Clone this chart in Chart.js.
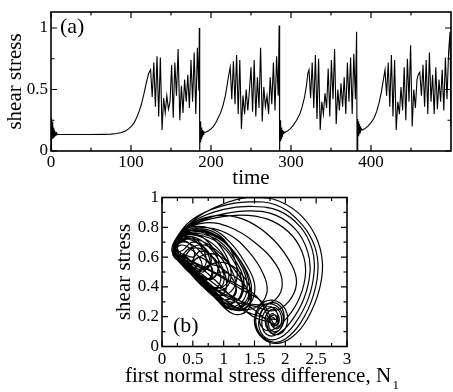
<!DOCTYPE html>
<html>
<head>
<meta charset="UTF-8">
<title>shear stress</title>
<script src="https://cdn.jsdelivr.net/npm/chart.js@4.4.1/dist/chart.umd.min.js"></script>
<style>
  body { margin: 0; background: #fff; }
  .wrap { position: relative; width: 453px; height: 392px; overflow: hidden; }
  #chartA { position: absolute; left: 0; top: -20px; }
  #chartB { position: absolute; left: 0; top: 170px; }
</style>
</head>
<body>
<div class="wrap">
  <canvas id="chartA" width="453" height="220"></canvas>
  <canvas id="chartB" width="453" height="222"></canvas>
</div>
<script>
// ---- panel (a): shear stress vs time ----
const timeA = [
  0,0.4,0.9,1.4,1.9,2.4,2.9,3.4,3.9,4.4,5,5.6,6.3,7,8,10,
  15,30,50,65,75,82,88,93,97,101,104,107,110,113,116,119,122,
  124.5,126.5,128.5,130.5,132.5,134.6,136.7,138.8,140.8,142.8,144.8,146.8,148.8,150.8,152.8,154.8,156.8,158.9,161,163,165,167,169,171,173,175,177,179,181,183,184.8,185.4,
  185.9,186.4,186.9,187.4,187.9,188.4,188.9,189.5,190.2,191,192,194,197,200,203,206,209,212,215,218,220.5,222.5,
  224,226,228,230,232,234,236,238,240,242,244,246,248,250,252,254,256,258,260,262,264,266,268,270,272,274,276,278,280,282,284,285.2,
  285.8,286.3,286.8,287.3,287.8,288.3,288.8,289.4,290,291,292,295,299,303,307,311,314,317,319.5,321,
  322.5,324.5,326.5,328.5,330.5,332.5,334.5,336.5,338.5,340.5,342.5,344.5,346.5,348.5,350.5,352.5,354.5,356.5,358.5,360.5,362.5,364.5,366.5,368.5,370.5,372.5,374.5,376.5,378.5,380.5,382,
  382.6,383.1,383.6,384.1,384.6,385.1,385.7,386.3,387,388,389,392,396,400,404,407,410,413,415.5,417.5,
  419.5,421.5,423.5,425.5,427.5,429.5,431.5,433.5,435.5,437.5,439.5,441.5,443.5,445.5,447.5,449.5,451.5,453.5,455.5,457.5,459,461,463,465,467,469,471,473,475,477,479,481,483,485,487,489,491,493,495,497,498.8,500
];
const stressA = [
  0.00,0.27,0.08,0.24,0.10,0.21,0.11,0.19,0.12,0.17,0.125,0.155,0.13,0.145,0.135,0.134,
  0.134,0.134,0.134,0.135,0.137,0.142,0.150,0.163,0.180,0.205,0.23,0.27,0.32,0.38,0.46,0.55,0.63,
  0.66,0.44,0.72,0.36,0.77,0.28,0.76,0.17,0.43,0.31,0.45,0.34,0.40,0.70,0.27,0.72,0.45,0.83,0.25,0.53,0.31,0.58,0.40,0.62,0.35,0.74,0.40,0.80,0.30,0.84,0.49,1.00,
  0.00,0.24,0.07,0.21,0.10,0.19,0.12,0.17,0.135,0.155,0.15,0.155,0.165,0.18,0.20,0.23,0.27,0.31,0.37,0.45,0.55,0.63,
  0.68,0.42,0.73,0.38,0.78,0.30,0.74,0.18,0.45,0.30,0.50,0.33,0.49,0.68,0.32,0.74,0.28,0.60,0.35,0.84,0.24,0.52,0.36,0.45,0.30,0.60,0.38,0.72,0.33,0.77,0.45,1.02,
  0.00,0.25,0.08,0.22,0.10,0.19,0.12,0.17,0.14,0.155,0.15,0.16,0.18,0.21,0.25,0.30,0.36,0.44,0.54,0.63,
  0.66,0.43,0.72,0.35,0.78,0.26,0.75,0.17,0.40,0.30,0.47,0.35,0.67,0.28,0.74,0.42,0.83,0.22,0.50,0.33,0.55,0.36,0.60,0.30,0.72,0.40,0.76,0.30,0.79,0.42,0.97,
  0.00,0.26,0.10,0.24,0.12,0.22,0.14,0.20,0.16,0.18,0.17,0.18,0.20,0.23,0.27,0.32,0.39,0.48,0.58,0.66,
  0.45,0.72,0.36,0.78,0.28,0.74,0.17,0.40,0.30,0.52,0.33,0.68,0.25,0.75,0.40,0.86,0.20,0.50,0.35,0.58,0.62,0.64,0.45,0.70,0.36,0.74,0.30,0.80,0.40,0.62,0.30,0.68,0.34,0.58,0.40,0.66,0.33,0.76,0.42,0.80,0.97,0.20
];
const xTicksA = [0, 100, 200, 300, 400];
const xMinorA = [50, 150, 250, 350, 450];
const yTicksA = [0, 0.5, 1];
const yMinorA = [0.25, 0.75];

// ---- panel (b): shear stress vs N1, one continuous trajectory (loop by loop) ----
const n1B = [
  0.18,0.28,0.50,0.85,1.15,1.38,1.45,1.35,1.10,0.80,0.50,0.25,
  0.20,0.32,0.55,0.80,0.98,1.05,0.98,0.80,0.55,0.32,
  0.19,0.26,0.40,0.58,0.72,0.78,0.70,0.52,0.34,
  0.20,0.28,0.55,0.95,1.40,1.80,2.20,2.48,2.60,2.55,2.35,2.10,1.85,1.62,1.50,1.58,1.80,2.00,2.02,1.88,1.72,1.68,1.80,1.90,1.86,1.76,1.48,1.20,0.85,0.45,
  0.17,0.25,0.45,0.80,1.10,1.35,1.50,1.45,1.25,0.95,0.60,0.30,
  0.30,0.50,0.62,0.80,0.98,1.00,0.90,0.70,0.52,
  0.20,0.30,0.48,0.70,0.88,0.92,0.80,0.60,0.38,
  0.20,0.30,0.55,0.90,1.18,1.30,1.22,1.00,0.70,0.42,
  0.20,0.30,0.60,1.00,1.40,1.80,2.10,2.18,2.05,1.80,1.50,1.20,0.80,0.40,
  0.20,0.32,0.50,0.68,0.80,0.78,0.65,0.45,0.28,
  0.18,0.26,0.45,0.75,1.00,1.12,1.05,0.85,0.60,0.36,
  0.20,0.32,0.60,0.95,1.25,1.38,1.30,1.05,0.75,0.45,0.22,
  0.19,0.27,0.52,0.95,1.40,1.85,2.20,2.44,2.53,2.46,2.25,2.00,1.80,1.60,1.52,1.62,1.82,1.96,1.92,1.78,1.70,1.78,1.86,1.82,1.62,1.30,0.90,0.45,
  0.22,0.35,0.60,0.90,1.12,1.20,1.10,0.90,0.60,0.35,
  0.21,0.33,0.50,0.65,0.72,0.66,0.50,0.33,
  0.40,0.65,0.80,1.05,1.20,1.15,0.95,0.75,
  0.22,0.35,0.55,0.78,0.92,0.95,0.85,0.65,0.42,0.25,
  0.20,0.28,0.42,0.52,0.50,0.40,0.28,
  0.22,0.35,0.70,1.10,1.50,1.85,1.95,1.85,1.60,1.30,0.90,0.50,
  0.18,0.30,0.55,0.90,1.20,1.42,1.38,1.15,0.85,0.50,
  0.25,0.35,0.50,0.70,0.80,0.72,0.52,0.38,
  0.25,0.40,0.65,0.95,1.15,1.22,1.12,0.90,0.62,0.38,
  0.20,0.28,0.55,1.00,1.45,1.90,2.25,2.43,2.47,2.38,2.15,1.92,1.72,1.58,1.60,1.75,1.92,1.98,1.90,1.76,1.74,1.84,1.88,1.80,1.55,1.20,0.75,0.35,
  0.20,0.30,0.45,0.60,0.65,0.58,0.42,0.27,
  0.30,0.45,0.70,0.95,1.08,1.02,0.82,0.58,0.40,
  0.35,0.48,0.60,0.78,0.82,0.70,0.55,
  0.45,0.60,0.85,1.10,1.30,1.28,1.10,0.85,0.60,
  0.20,0.33,0.65,1.05,1.40,1.65,1.70,1.55,1.30,1.00,0.60,0.30,
  0.55,0.80,0.95,1.25,1.40,1.35,1.10,0.88,
  0.60,0.85,1.10,1.32,1.45,1.38,1.15,0.90,0.70,
  0.20,0.28,0.55,1.00,1.45,1.85,2.18,2.36,2.40,2.30,2.08,1.86,1.70,1.62,1.68,1.84,1.94,1.88,1.78,1.76,1.84,1.45,1.05,0.65,0.30,
  0.18,0.27,0.48,0.82,1.12,1.34,1.42,1.33,1.08,0.78,0.48,0.24,
  0.35,0.50,0.75,0.90,0.85,0.65,0.45,
  0.19,0.27,0.52,0.95,1.40,1.80,2.12,2.30,2.32,2.20,1.98,1.78,1.64,1.58,1.66,1.80,1.88,1.82,1.72,1.45,1.05,0.60,0.28,
  0.20,0.31,0.57,0.92,1.20,1.33,1.25,1.02,0.72,0.44,0.21
];
const stressB = [
  0.62,0.72,0.77,0.74,0.64,0.50,0.38,0.28,0.25,0.35,0.48,0.58,
  0.63,0.72,0.73,0.65,0.53,0.42,0.35,0.36,0.46,0.57,
  0.64,0.71,0.74,0.71,0.64,0.56,0.52,0.53,0.59,
  0.63,0.74,0.86,0.95,1.00,0.99,0.90,0.75,0.57,0.38,0.18,0.06,0.02,0.06,0.16,0.27,0.31,0.25,0.14,0.08,0.11,0.20,0.25,0.19,0.14,0.16,0.20,0.30,0.45,0.58,
  0.63,0.74,0.80,0.79,0.70,0.56,0.42,0.30,0.24,0.30,0.44,0.56,
  0.62,0.60,0.64,0.61,0.51,0.43,0.39,0.42,0.52,
  0.63,0.73,0.76,0.72,0.62,0.52,0.46,0.48,0.56,
  0.63,0.73,0.75,0.70,0.56,0.42,0.31,0.29,0.40,0.52,
  0.63,0.76,0.85,0.88,0.84,0.72,0.55,0.42,0.30,0.24,0.27,0.30,0.40,0.55,
  0.64,0.70,0.68,0.61,0.53,0.46,0.45,0.52,0.60,
  0.62,0.73,0.78,0.75,0.64,0.50,0.40,0.38,0.45,0.56,
  0.64,0.75,0.78,0.72,0.57,0.42,0.30,0.27,0.38,0.50,0.60,
  0.63,0.75,0.86,0.94,0.97,0.95,0.85,0.71,0.55,0.35,0.16,0.05,0.03,0.08,0.18,0.27,0.28,0.21,0.12,0.09,0.16,0.22,0.19,0.15,0.30,0.38,0.48,0.58,
  0.65,0.74,0.74,0.66,0.52,0.40,0.32,0.33,0.44,0.56,
  0.65,0.72,0.72,0.66,0.58,0.53,0.55,0.60,
  0.60,0.50,0.55,0.50,0.40,0.33,0.32,0.40,
  0.66,0.72,0.70,0.62,0.52,0.44,0.39,0.43,0.53,0.62,
  0.64,0.70,0.70,0.64,0.58,0.57,0.60,
  0.64,0.77,0.83,0.80,0.70,0.55,0.42,0.32,0.28,0.30,0.38,0.52,
  0.61,0.70,0.72,0.64,0.50,0.34,0.24,0.22,0.33,0.47,
  0.62,0.65,0.70,0.66,0.58,0.52,0.53,0.60,
  0.66,0.76,0.79,0.74,0.62,0.48,0.37,0.35,0.45,0.57,
  0.63,0.75,0.85,0.92,0.94,0.91,0.80,0.66,0.52,0.33,0.15,0.06,0.05,0.12,0.22,0.29,0.27,0.19,0.11,0.11,0.19,0.21,0.16,0.14,0.33,0.42,0.52,0.60,
  0.63,0.68,0.66,0.60,0.54,0.50,0.54,0.60,
  0.60,0.66,0.68,0.60,0.49,0.41,0.40,0.47,0.56,
  0.62,0.57,0.60,0.55,0.48,0.45,0.50,
  0.52,0.60,0.62,0.55,0.43,0.33,0.30,0.36,0.46,
  0.63,0.76,0.80,0.76,0.64,0.48,0.36,0.27,0.25,0.30,0.45,0.58,
  0.50,0.45,0.50,0.45,0.36,0.28,0.27,0.35,
  0.48,0.56,0.55,0.47,0.36,0.27,0.25,0.31,0.41,
  0.63,0.75,0.83,0.89,0.91,0.88,0.78,0.64,0.50,0.32,0.16,0.08,0.08,0.15,0.24,0.26,0.19,0.12,0.14,0.20,0.18,0.22,0.30,0.46,0.59,
  0.63,0.73,0.78,0.76,0.66,0.52,0.39,0.29,0.26,0.36,0.49,0.59,
  0.60,0.66,0.63,0.54,0.47,0.46,0.53,
  0.63,0.74,0.82,0.87,0.88,0.84,0.74,0.60,0.46,0.30,0.17,0.11,0.12,0.19,0.26,0.26,0.20,0.15,0.17,0.26,0.36,0.50,0.60,
  0.64,0.74,0.76,0.71,0.57,0.43,0.32,0.29,0.40,0.52,0.62
];
const xTicksB = [0, 0.5, 1, 1.5, 2, 2.5, 3];
const xMinorB = [0.25, 0.75, 1.25, 1.75, 2.25, 2.75];
const yTicksB = [0, 0.2, 0.4, 0.6, 0.8, 1];
const yMinorB = [0.1, 0.3, 0.5, 0.7, 0.9];

const SERIF = "'Liberation Serif', 'Times New Roman', serif";
Chart.defaults.font.family = SERIF;
Chart.defaults.color = '#000';

// inward ticks on all four sides, the frame, the panel tag and an optional drawn x title
const frameTicks = {
  id: 'frameTicks',
  afterDatasetsDraw(chart, args, o) {
    const ctx = chart.ctx, a = chart.chartArea;
    const x = chart.scales.x, y = chart.scales.y;
    ctx.save();
    ctx.strokeStyle = '#000';
    ctx.lineWidth = 1.2;
    ctx.beginPath();
    const xt = (vals, len) => vals.forEach(v => {
      const p = x.getPixelForValue(v);
      ctx.moveTo(p, a.bottom); ctx.lineTo(p, a.bottom - len);
      ctx.moveTo(p, a.top); ctx.lineTo(p, a.top + len);
    });
    const yt = (vals, len) => vals.forEach(v => {
      const p = y.getPixelForValue(v);
      ctx.moveTo(a.left, p); ctx.lineTo(a.left + len, p);
      ctx.moveTo(a.right, p); ctx.lineTo(a.right - len, p);
    });
    xt(o.xMajor, 6); xt(o.xMinor, 3.5);
    yt(o.yMajor, 6); yt(o.yMinor, 3.5);
    ctx.stroke();
    ctx.lineWidth = 1.6;
    ctx.strokeRect(a.left, a.top, a.right - a.left, a.bottom - a.top);

    ctx.fillStyle = '#000';
    ctx.font = '22px ' + SERIF;
    ctx.textBaseline = 'middle';
    ctx.textAlign = 'left';
    const ty = o.tagFromTop ? a.top + o.tagDy : a.bottom - o.tagDy;
    ctx.fillText(o.tag, a.left + o.tagDx, ty);

    if (o.xTitle) {
      // drawn here so the long title is not squeezed to the plot width
      ctx.font = '21px ' + SERIF;
      const w = ctx.measureText(o.xTitle.text).width;
      const cx = (a.left + a.right) / 2 + o.xTitle.dx;
      const cy = x.bottom - o.xTitle.up;
      ctx.textAlign = 'center';
      ctx.fillText(o.xTitle.text, cx, cy);
      ctx.textAlign = 'left';
      ctx.font = '13px ' + SERIF;
      ctx.fillText(o.xTitle.sub, cx + w / 2 + 1.5, cy + 9.5);
    }
    ctx.restore();
  }
};

function axis(min, max, ticks, size, pad, title, titlePad, isX) {
  return {
    type: 'linear',
    min: min,
    max: max,
    grid: { display: false, drawTicks: false },
    border: { display: false },
    afterBuildTicks: s => { s.ticks = ticks.map(v => ({ value: v })); },
    afterFit: s => { if (isX) s.height = size; else s.width = size; },
    ticks: {
      padding: pad,
      font: { family: SERIF, size: 17 },
      color: '#000',
      maxRotation: 0,
      autoSkip: false,
      callback: v => String(v)
    },
    title: {
      display: title !== null,
      text: title || '',
      color: '#000',
      font: { family: SERIF, size: 21, lineHeight: 1 },
      padding: titlePad
    }
  };
}

new Chart(document.getElementById('chartA'), {
  type: 'line',
  data: {
    datasets: [{
      data: timeA.map((t, i) => ({ x: t, y: stressA[i] })),
      borderColor: '#000',
      borderWidth: 1.1,
      pointRadius: 0,
      tension: 0,
      fill: false
    }]
  },
  options: {
    responsive: false,
    animation: false,
    devicePixelRatio: 1,
    layout: { padding: { left: 0, right: 2, top: 32, bottom: 0 } },
    plugins: {
      legend: { display: false },
      tooltip: { enabled: false },
      frameTicks: { xMajor: xTicksA, xMinor: xMinorA, yMajor: yTicksA, yMinor: yMinorA, tag: '(a)', tagDx: 9, tagDy: 15.5, tagFromTop: true }
    },
    scales: {
      x: axis(0, 500, xTicksA, 49, 1, 'time', { top: 0, bottom: 11.5 }, true),
      y: axis(0, 1.13, yTicksA, 51, 3, 'shear stress', { top: 5.4, bottom: 0 }, false)
    }
  },
  plugins: [frameTicks]
});

new Chart(document.getElementById('chartB'), {
  type: 'line',
  data: {
    datasets: [{
      data: n1B.map((v, i) => ({ x: v, y: stressB[i] })),
      borderColor: '#000',
      borderWidth: 1.2,
      pointRadius: 0,
      tension: 0.4,
      fill: false
    }]
  },
  options: {
    responsive: false,
    animation: false,
    devicePixelRatio: 1,
    layout: { padding: { left: 109, right: 106, top: 27.5, bottom: 0 } },
    plugins: {
      legend: { display: false },
      tooltip: { enabled: false },
      frameTicks: { xMajor: xTicksB, xMinor: xMinorB, yMajor: yTicksB, yMinor: yMinorB, tag: '(b)', tagDx: 11, tagDy: 20.5, tagFromTop: false,
        xTitle: { text: 'first normal stress difference, N', sub: '1', dx: 3.5, up: 16 } }
    },
    scales: {
      x: axis(0, 3, xTicksB, 45.5, 3, null, { top: 0, bottom: 0 }, true),
      y: axis(0, 1, yTicksB, 53, 3, 'shear stress', { top: 5.4, bottom: 0 }, false)
    }
  },
  plugins: [frameTicks]
});
</script>
</body>
</html>
